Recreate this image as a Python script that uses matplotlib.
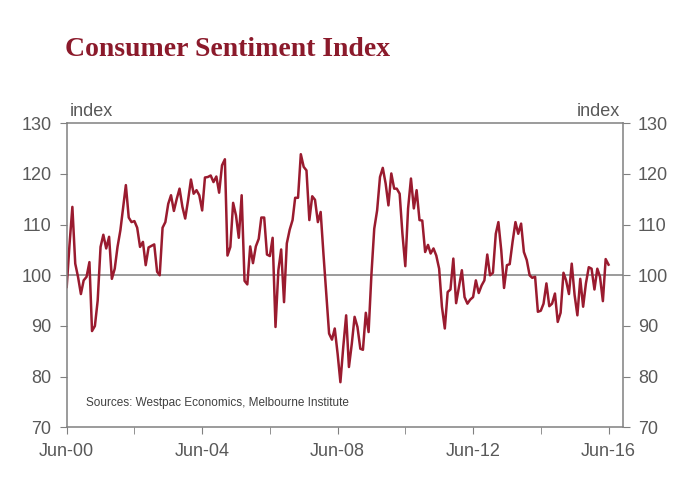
import matplotlib
matplotlib.use("Agg")
import matplotlib.pyplot as plt
import matplotlib.dates as mdates
import pandas as pd

title = "Consumer Sentiment Index"
source = "Sources: Westpac Economics, Melbourne Institute"
start_month = "2000-06-01"
yticks = [70, 80, 90, 100, 110, 120, 130]

sentiment = [
    97.7, 106.0, 113.5, 102.3, 99.7, 96.3, 99.0, 99.7, 102.6, 89.0,
    90.0, 95.0, 105.6, 108.0, 105.3, 107.6, 99.3, 101.3, 105.6, 108.9,
    113.5, 117.8, 111.4, 110.5, 110.7, 109.4, 105.6, 106.6, 102.0, 105.5,
    105.8, 106.1, 100.7, 100.0, 109.4, 110.5, 114.1, 115.8, 112.7, 115.1,
    117.1, 113.5, 111.2, 114.8, 118.9, 116.1, 116.8, 115.8, 112.8, 119.3,
    119.4, 119.7, 118.4, 119.5, 116.3, 121.7, 122.9, 103.9, 105.6, 114.3,
    111.8, 107.4, 115.8, 98.9, 98.2, 105.7, 102.4, 105.7, 107.2, 111.4,
    111.4, 104.1, 103.8, 107.4, 89.8, 101.0, 105.1, 94.7, 106.3, 109.0,
    110.9, 115.3, 115.3, 123.9, 121.4, 120.7, 110.9, 115.6, 114.9, 110.5,
    112.5, 104.0, 96.0, 88.5, 87.3, 89.5, 84.5, 78.9, 85.9, 92.1,
    81.9, 86.5, 91.8, 89.8, 85.5, 85.3, 92.6, 88.8, 100.3, 109.2,
    112.8, 119.4, 121.2, 118.1, 113.8, 120.1, 117.1, 117.1, 116.1, 108.2,
    101.8, 113.2, 119.1, 113.2, 116.8, 110.9, 110.8, 104.6, 106.0, 104.3,
    105.3, 103.9, 101.3, 93.8, 89.5, 96.7, 97.2, 103.3, 94.5, 97.7,
    101.0, 95.7, 94.4, 95.2, 95.7, 99.0, 96.5, 98.0, 99.0, 104.1,
    100.0, 100.5, 108.2, 110.5, 104.9, 97.5, 102.0, 102.2, 106.6, 110.5,
    108.2, 110.2, 104.6, 103.0, 100.0, 99.5, 99.7, 92.8, 93.0, 94.4,
    98.4, 93.9, 94.4, 96.4, 90.8, 92.6, 100.5, 99.0, 96.3, 102.3,
    96.1, 92.1, 99.3, 93.8, 98.4, 101.6, 101.3, 97.2, 101.3, 99.7,
    94.9, 103.2, 102.1,
]

dates = pd.date_range(start_month, periods=len(sentiment), freq="MS")

line_color = "#9a1b2f"
grey = "#808080"
text_grey = "#595959"

plt.rcParams["font.family"] = ["Liberation Sans", "DejaVu Sans"]

fig = plt.figure(figsize=(7, 5), dpi=100)
ax = fig.add_axes([0.0953, 0.1454, 0.7943, 0.608])

ax.axhline(100, color=grey, lw=1.1, zorder=1)
ax.plot(dates, sentiment, color=line_color, lw=1.8, zorder=2)

ax.set_ylim(70, 130)
ax.set_xlim(pd.Timestamp("2000-06-01"), pd.Timestamp("2016-11-01"))

ax.set_yticks(yticks)
ax.tick_params(axis="y", which="both", left=True, right=True,
               labelleft=True, labelright=True, direction="out",
               length=5, color=grey, labelsize=13, labelcolor=text_grey, pad=6)

ax.xaxis.set_major_locator(mdates.YearLocator(4, month=6, day=1))
ax.xaxis.set_minor_locator(mdates.YearLocator(2, month=6, day=1))
ax.xaxis.set_major_formatter(mdates.DateFormatter("%b-%y"))
ax.tick_params(axis="x", which="both", direction="out", length=5, color=grey,
               labelsize=13, labelcolor=text_grey, pad=6)

for s in ax.spines.values():
    s.set_color(grey)
    s.set_linewidth(1.1)

ax.text(0.005, 1.012, "index", transform=ax.transAxes, ha="left", va="bottom",
        fontsize=13, color=text_grey)
ax.text(0.995, 1.012, "index", transform=ax.transAxes, ha="right", va="bottom",
        fontsize=13, color=text_grey)
ax.text(0.035, 0.08, source, transform=ax.transAxes, ha="left", va="center",
        fontsize=8.5, color="#404040")

fig.text(65 / 700, 1 - 50 / 500, title, ha="left", va="center",
         fontsize=20, fontweight="bold", color="#8b1a2b",
         family=["Liberation Serif", "DejaVu Serif"])

fig.savefig("out.png", dpi=100, facecolor="white")
